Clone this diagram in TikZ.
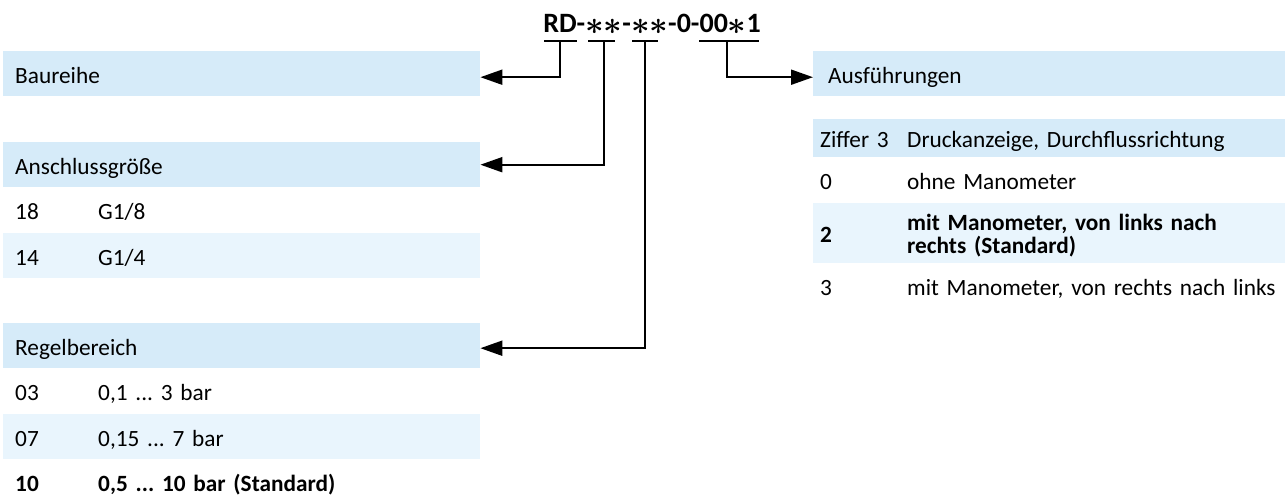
\documentclass[tikz,border=0pt]{standalone}
\usepackage{fontspec}
\setmainfont{Carlito}
\usetikzlibrary{arrows.meta}
\definecolor{hdrblue}{RGB}{214,235,249}
\definecolor{rowblue}{RGB}{233,245,253}
\newcommand{\twocol}[3]{\makebox[#1][l]{#2}\mbox{#3}}
\newcommand{\codestar}{\raisebox{-2pt}{\scalebox{1.3}{$\ast$}}}
\frenchspacing
\begin{document}
\begin{tikzpicture}[x=1pt,y=-1pt,
  every node/.style={font=\fontsize{23.3}{23}\selectfont,anchor=north west,
    inner ysep=0pt,text height=22pt,text depth=3pt},
  hdr/.style={fill=hdrblue,minimum height=45pt},
  rowlight/.style={fill=rowblue,minimum height=45pt},
  rowplain/.style={minimum height=45pt},
  lcol/.style={text width=453pt,inner xsep=12pt},
  rcol/.style={text width=458pt,inner xsep=7pt},
  bar/.style={line width=2pt},
  link/.style={line width=2pt,-{Triangle[length=22pt,width=15pt]}}]
  \useasboundingbox (0,0) rectangle (1285,495);
  % type code
  \node[anchor=base,font=\fontsize{28}{28}\selectfont\bfseries\boldmath,text height=,text depth=,inner sep=0pt] (code) at (652,33)
    {RD-\codestar\codestar-\codestar\codestar-0-00\codestar 1};
  \coordinate (rdA) at (544,41);  \coordinate (rdB) at (577,41);  \coordinate (rdM) at (560,41);
  \coordinate (ganA) at (588,41); \coordinate (ganB) at (615,41); \coordinate (ganM) at (604,41);
  \coordinate (regA) at (632,41); \coordinate (regB) at (658,41); \coordinate (regM) at (645,41);
  \coordinate (ausA) at (699,41); \coordinate (ausB) at (759,41); \coordinate (ausM) at (727,41);
  \draw[bar] (rdA) -- (rdB);
  \draw[bar] (ganA) -- (ganB);
  \draw[bar] (regA) -- (regB);
  \draw[bar] (ausA) -- (ausB);
  % left tables
  \node[hdr,lcol] (baureihe) at (3,51) {Baureihe};
  \node[hdr,lcol] (anschluss) at (3,142) {Anschlussgröße};
  \node[rowplain,lcol] (g18) at (3,187) {\twocol{83pt}{18}{G1/8}};
  \node[rowlight,lcol] (g14) at (3,233) {\twocol{83pt}{14}{G1/4}};
  \node[hdr,lcol] (regel) at (3,323) {Regelbereich};
  \node[rowplain,lcol] (r03) at (3,368) {\twocol{83pt}{03}{0,1 ... 3 bar}};
  \node[rowlight,lcol] (r07) at (3,414) {\twocol{83pt}{07}{0,15 ... 7 bar}};
  \node[rowplain,lcol,font=\fontsize{23.3}{23}\selectfont\bfseries] (r10) at (3,459) {\twocol{83pt}{10}{0,5 ... 10 bar (Standard)}};
  % right table
  \node[hdr,text width=442pt,inner xsep=15pt] (ausf) at (813,51) {Ausführungen};
  \node[hdr,rcol,minimum height=38pt] (ziffer) at (813,119) {\twocol{87pt}{Ziffer 3}{Druckanzeige, Durchflussrichtung}};
  \node[rowplain,rcol,minimum height=46pt] (z0) at (813,157) {\twocol{87pt}{0}{ohne Manometer}};
  \node[rowlight,rcol,minimum height=60pt,text height=28pt,text depth=10pt,font=\fontsize{23.3}{23}\selectfont\bfseries] (z2) at (813,203)
    {\twocol{87pt}{2}{\parbox[c]{360pt}{mit Manometer, von links nach\\rechts (Standard)}}};
  \node[rowplain,rcol] (z3) at (813,263) {\twocol{87pt}{3}{mit Manometer, von rechts nach links}};
  % connectors
  \draw[link] (rdM) |- ([yshift=-3.5pt]baureihe.east);
  \draw[link] (ganM) |- (anschluss.east);
  \draw[link] (regM) |- ([yshift=-2.5pt]regel.east);
  \draw[link] (ausM) |- ([yshift=-3.5pt]ausf.west);
\end{tikzpicture}
\end{document}
